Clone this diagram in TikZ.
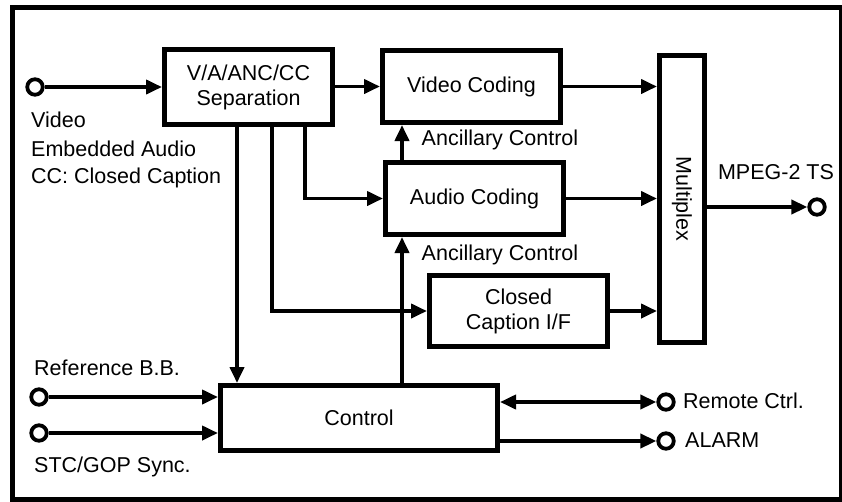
\documentclass[tikz,border=0pt]{standalone}
\usepackage{fontspec}
\setmainfont{Liberation Sans}
\usetikzlibrary{arrows.meta}
\begin{document}
\begin{tikzpicture}[x=1pt,y=-1pt,
  txt/.style={font=\fontsize{21.5}{25}\selectfont,inner sep=0pt},
  blk/.style={draw,line width=5pt,inner sep=0pt,align=center,txt},
  arr/.style={line width=3.8pt,-{Triangle[length=16pt,width=14pt]}},
  darr/.style={line width=3.8pt,{Triangle[length=16pt,width=14pt]}-{Triangle[length=16pt,width=14pt]}},
  term/.style={circle,draw,line width=3.8pt,fill=white,minimum size=15.5pt,inner sep=0pt}]
\useasboundingbox (0,0) rectangle (842,501);
\clip (0,0) rectangle (842,501);
\draw[line width=5pt] (12.5,7.5) rectangle (841,499);

% blocks
\node[blk,minimum width=168pt,minimum height=75pt] (sep) at (248.5,87) {V/A/ANC/CC\\Separation};
\node[blk,minimum width=178pt,minimum height=72pt] (vid) at (471.5,86.5) {Video Coding};
\node[blk,minimum width=178pt,minimum height=72pt] (aud) at (474.5,198.5) {Audio Coding};
\node[blk,minimum width=45pt,minimum height=287pt] (mux) at (682,199) {};
\node[txt,rotate=-90] (muxl) at (mux.center) {Multiplex};
\node[blk,minimum width=178pt,minimum height=71pt] (cc) at (518.5,311) {Closed\\Caption I/F};
\node[blk,minimum width=277pt,minimum height=65pt] (ctl) at (359,418) {Control};

% terminals
\node[term] (inv) at (35,87) {};
\node[term] (outc) at (817,207) {};
\node[term] (refc) at (39,397) {};
\node[term] (stcc) at (39,433) {};
\node[term] (rc) at (666,402) {};
\node[term] (al) at (666,441) {};

% labels
\node[txt,anchor=west] (l1) at (31,120) {Video};
\node[txt,anchor=west] (l2) at (31,149) {Embedded Audio};
\node[txt,anchor=west] (l3) at (31,178) {CC: Closed Caption};
\node[txt] (anc1) at (500,140) {Ancillary Control};
\node[txt] (anc2) at (500,255) {Ancillary Control};
\node[txt] (mpeg) at (776,172) {MPEG-2 TS};
\node[txt,anchor=west] (refl) at (34,368) {Reference B.B.};
\node[txt,anchor=west] (stcl) at (34,467) {STC/GOP Sync.};
\node[txt,anchor=west] (rcl) at (683,401) {Remote Ctrl.};
\node[txt,anchor=west] (all) at (685,440) {ALARM};

% connectors
\draw[arr] (inv) -- (sep.west |- inv);
\draw[arr] (sep.east |- vid.west) -- (vid.west);
\draw[arr] (vid.east) -- (vid.east -| mux.west);
\draw[arr] (aud.east) -- (aud.east -| mux.west);
\draw[arr] (cc.east) -- (cc.east -| mux.west);
\draw[arr] (outc -| mux.east) -- (outc);
\draw[arr] ([xshift=-11.5pt]sep.south) -- ([xshift=-11.5pt]sep.south |- ctl.north);
\draw[arr] ([xshift=23.5pt]sep.south) |- (cc.west);
\draw[arr] ([xshift=56.5pt]sep.south) |- (aud.west);
\draw[arr] ([xshift=-72.5pt]aud.north) -- ([xshift=-72.5pt]aud.north |- vid.south);
\draw[arr] ([xshift=43pt]ctl.north) -- ([xshift=43pt]ctl.north |- aud.south);
\draw[arr] (refc) -- (ctl.west |- refc);
\draw[arr] (stcc) -- (ctl.west |- stcc);
\draw[darr] (ctl.east |- rc) -- (rc);
\draw[arr] (ctl.east |- al) -- (al);
\end{tikzpicture}
\end{document}
